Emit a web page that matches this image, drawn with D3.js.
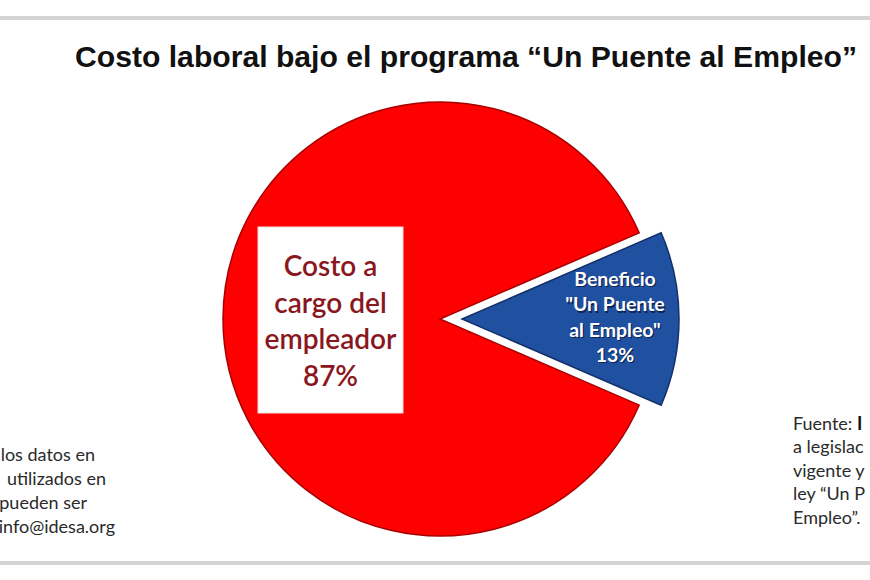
<!DOCTYPE html>
<html><head><meta charset="utf-8">
<script src="https://cdn.jsdelivr.net/npm/d3@7"></script>
<style>html,body{margin:0;padding:0;background:#fff;overflow:hidden}</style>
</head><body>
<svg id="c" width="870" height="580"></svg>
<script>
const title = "Costo laboral bajo el programa \u201cUn Puente al Empleo\u201d";
const categories = ["Costo a cargo del empleador", "Beneficio \"Un Puente al Empleo\""];
const values = [87, 13];
const sliceLabels = [["Costo a", "cargo del", "empleador", "87%"], ["Beneficio", "\"Un Puente", "al Empleo\"", "13%"]];
const leftNote = ["los datos en", "utilizados en", "pueden ser", "info@idesa.org"];
const rightNote = ["a legislac", "vigente y", "ley \u201cUn P", "Empleo\u201d."];

const svg = d3.select("#c");
const W = 870, H = 580;
svg.append("rect").attr("width", W).attr("height", H).attr("fill", "#fff");

// frame lines
svg.append("rect").attr("x", 0).attr("y", 16).attr("width", W).attr("height", 4).attr("fill", "#d4d4d4");
svg.append("rect").attr("x", 0).attr("y", 561).attr("width", W).attr("height", 4).attr("fill", "#d4d4d4");

// title
svg.append("text").attr("x", 75).attr("y", 67)
  .attr("font-family", "'Liberation Sans', Arial, sans-serif").attr("font-weight", "bold")
  .attr("font-size", 29.5).attr("fill", "#111")
  .attr("textLength", 782).attr("lengthAdjust", "spacingAndGlyphs")
  .text(title);

// pie
const cx = 440, cy = 319, R = 217;
const share = values[1] / d3.sum(values);
const start = Math.PI / 2 + share * Math.PI;
const pie = d3.pie().sort(null).startAngle(start).endAngle(start + 2 * Math.PI);
const arcs = pie(values);
const arc = d3.arc().innerRadius(0).outerRadius(R);
const fills = ["#ff0000", "#2050a0"];
const strokes = ["#a80000", "#14306a"];
const explode = [0, 22];

const g = svg.append("g").attr("transform", `translate(${cx},${cy})`);
arcs.forEach((a, i) => {
  const mid = (a.startAngle + a.endAngle) / 2;
  const dx = Math.sin(mid) * explode[i], dy = -Math.cos(mid) * explode[i];
  g.append("path").attr("d", arc(a))
    .attr("transform", `translate(${dx},${dy})`)
    .attr("fill", fills[i]).attr("stroke", strokes[i]).attr("stroke-width", 1.5)
    .attr("stroke-linejoin", "miter");
});

// red label box
svg.append("rect").attr("x", 258).attr("y", 227).attr("width", 145).attr("height", 186)
  .attr("fill", "#fff").attr("stroke", "#f2dede").attr("stroke-width", 1);
const redText = svg.append("text").attr("font-family", "Lato, 'Open Sans', sans-serif")
  .attr("font-weight", 600).attr("font-size", 28).attr("fill", "#8a1620").attr("text-anchor", "middle");
sliceLabels[0].forEach((t, i) => {
  redText.append("tspan").attr("x", 330.5).attr("y", 276 + i * 36.5).text(t);
});

// blue label with shadow
[["#0e2455", 1.2], ["#ffffff", 0]].forEach(([col, off]) => {
  const bt = svg.append("text").attr("font-family", "Lato, 'Open Sans', sans-serif")
    .attr("font-weight", "bold").attr("font-size", 19.5).attr("fill", col).attr("text-anchor", "middle");
  sliceLabels[1].forEach((t, i) => {
    bt.append("tspan").attr("x", 615 + off).attr("y", 286 + i * 25.3 + off).text(t);
  });
});

// left note (cropped at left edge)
const lx = [95, 106, 87, 115];
leftNote.forEach((t, i) => {
  svg.append("text").attr("x", lx[i]).attr("y", 461 + i * 24)
    .attr("font-family", "Lato, 'Open Sans', sans-serif").attr("font-size", 18)
    .attr("fill", "#2a2a2a").attr("text-anchor", "end").text(t);
});

// right note (cropped at right edge)
const rn = svg.append("text").attr("x", 793).attr("y", 430)
  .attr("font-family", "Lato, 'Open Sans', sans-serif").attr("font-size", 18).attr("fill", "#2a2a2a");
rn.append("tspan").text("Fuente: ");
rn.append("tspan").attr("font-weight", "bold").attr("fill", "#111").text("I");
rightNote.forEach((t, i) => {
  svg.append("text").attr("x", 793).attr("y", 453 + i * 23.5)
    .attr("font-family", "Lato, 'Open Sans', sans-serif").attr("font-size", 18)
    .attr("fill", "#2a2a2a").text(t);
});
</script>
</body></html>
